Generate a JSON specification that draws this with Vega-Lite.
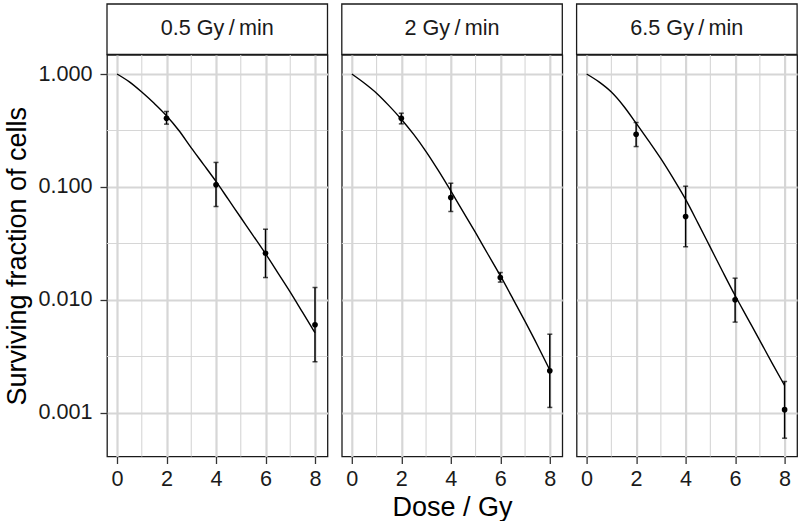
{
  "$schema": "https://vega.github.io/schema/vega-lite/v6.json",
  "padding": {"left": 3, "top": 3, "right": 0, "bottom": 0},
  "background": "white",
  "datasets": {
    "strips": [
      {"rate": "0.5", "label": "0.5 Gy\u2009/\u2009min"},
      {"rate": "2", "label": "2 Gy\u2009/\u2009min"},
      {"rate": "6.5", "label": "6.5 Gy\u2009/\u2009min"}
    ],
    "obs": [
      {"rate": "0.5", "dose": 2, "sf": 0.406, "lo": 0.360, "hi": 0.466},
      {"rate": "0.5", "dose": 4, "sf": 0.1045, "lo": 0.0672, "hi": 0.165},
      {"rate": "0.5", "dose": 6, "sf": 0.0259, "lo": 0.0158, "hi": 0.0423},
      {"rate": "0.5", "dose": 8, "sf": 0.00604, "lo": 0.00284, "hi": 0.0129},
      {"rate": "2", "dose": 2, "sf": 0.406, "lo": 0.362, "hi": 0.45},
      {"rate": "2", "dose": 4, "sf": 0.0807, "lo": 0.0607, "hi": 0.108},
      {"rate": "2", "dose": 6, "sf": 0.0158, "lo": 0.0144, "hi": 0.0175},
      {"rate": "2", "dose": 8, "sf": 0.00236, "lo": 0.00112, "hi": 0.00498},
      {"rate": "6.5", "dose": 2, "sf": 0.293, "lo": 0.228, "hi": 0.372},
      {"rate": "6.5", "dose": 4, "sf": 0.0548, "lo": 0.0296, "hi": 0.1016},
      {"rate": "6.5", "dose": 6, "sf": 0.01004, "lo": 0.00637, "hi": 0.0156},
      {"rate": "6.5", "dose": 8, "sf": 0.00107, "lo": 0.000598, "hi": 0.0019}
    ],
    "fit": [
      {"rate": "0.5", "dose": 0, "sf": 1},
      {"rate": "0.5", "dose": 0.5, "sf": 0.851},
      {"rate": "0.5", "dose": 1, "sf": 0.692},
      {"rate": "0.5", "dose": 1.5, "sf": 0.55},
      {"rate": "0.5", "dose": 2, "sf": 0.427},
      {"rate": "0.5", "dose": 2.5, "sf": 0.316},
      {"rate": "0.5", "dose": 3, "sf": 0.222},
      {"rate": "0.5", "dose": 3.5, "sf": 0.158},
      {"rate": "0.5", "dose": 4, "sf": 0.112},
      {"rate": "0.5", "dose": 4.5, "sf": 0.0776},
      {"rate": "0.5", "dose": 5, "sf": 0.0537},
      {"rate": "0.5", "dose": 5.5, "sf": 0.0372},
      {"rate": "0.5", "dose": 6, "sf": 0.0257},
      {"rate": "0.5", "dose": 6.5, "sf": 0.0174},
      {"rate": "0.5", "dose": 7, "sf": 0.01175},
      {"rate": "0.5", "dose": 7.5, "sf": 0.00776},
      {"rate": "0.5", "dose": 8, "sf": 0.00513},
      {"rate": "2", "dose": 0, "sf": 1},
      {"rate": "2", "dose": 0.5, "sf": 0.832},
      {"rate": "2", "dose": 1, "sf": 0.676},
      {"rate": "2", "dose": 1.5, "sf": 0.525},
      {"rate": "2", "dose": 2, "sf": 0.398},
      {"rate": "2", "dose": 2.5, "sf": 0.292},
      {"rate": "2", "dose": 3, "sf": 0.206},
      {"rate": "2", "dose": 3.5, "sf": 0.1396},
      {"rate": "2", "dose": 4, "sf": 0.0923},
      {"rate": "2", "dose": 4.5, "sf": 0.0603},
      {"rate": "2", "dose": 5, "sf": 0.0394},
      {"rate": "2", "dose": 5.5, "sf": 0.0254},
      {"rate": "2", "dose": 6, "sf": 0.0164},
      {"rate": "2", "dose": 6.5, "sf": 0.01035},
      {"rate": "2", "dose": 7, "sf": 0.00646},
      {"rate": "2", "dose": 7.5, "sf": 0.00398},
      {"rate": "2", "dose": 8, "sf": 0.0024},
      {"rate": "6.5", "dose": 0, "sf": 1},
      {"rate": "6.5", "dose": 0.5, "sf": 0.851},
      {"rate": "6.5", "dose": 1, "sf": 0.692},
      {"rate": "6.5", "dose": 1.5, "sf": 0.519},
      {"rate": "6.5", "dose": 2, "sf": 0.367},
      {"rate": "6.5", "dose": 2.5, "sf": 0.257},
      {"rate": "6.5", "dose": 3, "sf": 0.178},
      {"rate": "6.5", "dose": 3.5, "sf": 0.119},
      {"rate": "6.5", "dose": 4, "sf": 0.0776},
      {"rate": "6.5", "dose": 4.5, "sf": 0.0479},
      {"rate": "6.5", "dose": 5, "sf": 0.0292},
      {"rate": "6.5", "dose": 5.5, "sf": 0.0178},
      {"rate": "6.5", "dose": 6, "sf": 0.01096},
      {"rate": "6.5", "dose": 6.5, "sf": 0.00692},
      {"rate": "6.5", "dose": 7, "sf": 0.00437},
      {"rate": "6.5", "dose": 7.5, "sf": 0.00275},
      {"rate": "6.5", "dose": 8, "sf": 0.00175}
    ],
    "minorx": [{"dose": 1}, {"dose": 3}, {"dose": 5}, {"dose": 7}],
    "minory": [{"sf": 0.316228}, {"sf": 0.0316228}, {"sf": 0.00316228}]
  },
  "spacing": 10.8,
  "hconcat": [
    {
      "spacing": 0,
      "bounds": "flush",
      "vconcat": [
        {
          "width": 220.5, "height": 50.5,
          "data": {"name": "strips"},
          "transform": [{"filter": "datum.rate === '0.5'"}],
          "layer": [
            {"mark": {"type": "rect", "fill": "white", "stroke": "#1a1a1a", "strokeWidth": 1.3}, "encoding": {}},
            {"mark": {"type": "text", "font": "Liberation Sans", "fontSize": 21.6, "color": "#1a1a1a"}, "encoding": {"text": {"field": "label"}}}
          ]
        },
        {
          "width": 220.5, "height": 401.5,
          "layer": [
            {
              "data": {"name": "minorx"},
              "mark": {"type": "rule", "color": "#d6d6d6", "strokeWidth": 1.1},
              "encoding": {
                "x": {"field": "dose", "type": "quantitative", "title": null, "scale": {"domain": [-0.405, 8.505], "nice": false, "zero": false}, "axis": {"values": [0, 2, 4, 6, 8]}}
              }
            },
            {
              "data": {"name": "minory"},
              "mark": {"type": "rule", "color": "#d6d6d6", "strokeWidth": 1.1},
              "encoding": {
                "y": {"field": "sf", "type": "quantitative", "title": "Surviving fraction of cells", "scale": {"type": "log", "domain": [0.000412, 1.473], "nice": false}, "axis": {"values": [0.001, 0.01, 0.1, 1], "format": ".3f"}}
              }
            },
            {
              "data": {"name": "fit"},
              "transform": [{"filter": "datum.rate === '0.5'"}],
              "mark": {"type": "line", "color": "black", "strokeWidth": 1.4, "interpolate": "monotone"},
              "encoding": {
                "x": {"field": "dose", "type": "quantitative", "title": null, "axis": {"values": [0, 2, 4, 6, 8]}},
                "y": {"field": "sf", "type": "quantitative", "title": "Surviving fraction of cells", "axis": {"values": [0.001, 0.01, 0.1, 1], "format": ".3f"}}
              }
            },
            {
              "data": {"name": "obs"},
              "transform": [{"filter": "datum.rate === '0.5'"}],
              "layer": [
                {
                  "mark": {"type": "rule", "color": "black", "strokeWidth": 1.5},
                  "encoding": {
                    "x": {"field": "dose", "type": "quantitative", "title": null},
                    "y": {"field": "lo", "type": "quantitative", "title": "Surviving fraction of cells"},
                    "y2": {"field": "hi"}
                  }
                },
                {
                  "mark": {"type": "tick", "orient": "horizontal", "color": "black", "size": 5, "thickness": 1.5},
                  "encoding": {
                    "x": {"field": "dose", "type": "quantitative", "title": null},
                    "y": {"field": "lo", "type": "quantitative", "title": "Surviving fraction of cells"}
                  }
                },
                {
                  "mark": {"type": "tick", "orient": "horizontal", "color": "black", "size": 5, "thickness": 1.5},
                  "encoding": {
                    "x": {"field": "dose", "type": "quantitative", "title": null},
                    "y": {"field": "hi", "type": "quantitative", "title": "Surviving fraction of cells"}
                  }
                },
                {
                  "mark": {"type": "circle", "color": "black", "opacity": 1, "size": 32},
                  "encoding": {
                    "x": {"field": "dose", "type": "quantitative", "title": null},
                    "y": {"field": "sf", "type": "quantitative", "title": "Surviving fraction of cells"}
                  }
                }
              ]
            }
          ]
        }
      ]
    },
    {
      "spacing": 0,
      "bounds": "flush",
      "vconcat": [
        {
          "width": 220.5, "height": 50.5,
          "data": {"name": "strips"},
          "transform": [{"filter": "datum.rate === '2'"}],
          "layer": [
            {"mark": {"type": "rect", "fill": "white", "stroke": "#1a1a1a", "strokeWidth": 1.3}, "encoding": {}},
            {"mark": {"type": "text", "font": "Liberation Sans", "fontSize": 21.6, "color": "#1a1a1a"}, "encoding": {"text": {"field": "label"}}}
          ]
        },
        {
          "width": 220.5, "height": 401.5,
          "layer": [
            {
              "data": {"name": "minorx"},
              "mark": {"type": "rule", "color": "#d6d6d6", "strokeWidth": 1.1},
              "encoding": {
                "x": {"field": "dose", "type": "quantitative", "title": "Dose / Gy", "scale": {"domain": [-0.405, 8.505], "nice": false, "zero": false}, "axis": {"values": [0, 2, 4, 6, 8]}}
              }
            },
            {
              "data": {"name": "minory"},
              "mark": {"type": "rule", "color": "#d6d6d6", "strokeWidth": 1.1},
              "encoding": {
                "y": {"field": "sf", "type": "quantitative", "title": null, "scale": {"type": "log", "domain": [0.000412, 1.473], "nice": false}, "axis": {"values": [0.001, 0.01, 0.1, 1], "labels": false, "ticks": false, "labelPadding": 0, "tickSize": 0}}
              }
            },
            {
              "data": {"name": "fit"},
              "transform": [{"filter": "datum.rate === '2'"}],
              "mark": {"type": "line", "color": "black", "strokeWidth": 1.4, "interpolate": "monotone"},
              "encoding": {
                "x": {"field": "dose", "type": "quantitative", "title": "Dose / Gy", "axis": {"values": [0, 2, 4, 6, 8]}},
                "y": {"field": "sf", "type": "quantitative", "title": null, "axis": {"values": [0.001, 0.01, 0.1, 1], "labels": false, "ticks": false, "labelPadding": 0, "tickSize": 0}}
              }
            },
            {
              "data": {"name": "obs"},
              "transform": [{"filter": "datum.rate === '2'"}],
              "layer": [
                {
                  "mark": {"type": "rule", "color": "black", "strokeWidth": 1.5},
                  "encoding": {
                    "x": {"field": "dose", "type": "quantitative", "title": "Dose / Gy"},
                    "y": {"field": "lo", "type": "quantitative", "title": null},
                    "y2": {"field": "hi"}
                  }
                },
                {
                  "mark": {"type": "tick", "orient": "horizontal", "color": "black", "size": 5, "thickness": 1.5},
                  "encoding": {
                    "x": {"field": "dose", "type": "quantitative", "title": "Dose / Gy"},
                    "y": {"field": "lo", "type": "quantitative", "title": null}
                  }
                },
                {
                  "mark": {"type": "tick", "orient": "horizontal", "color": "black", "size": 5, "thickness": 1.5},
                  "encoding": {
                    "x": {"field": "dose", "type": "quantitative", "title": "Dose / Gy"},
                    "y": {"field": "hi", "type": "quantitative", "title": null}
                  }
                },
                {
                  "mark": {"type": "circle", "color": "black", "opacity": 1, "size": 32},
                  "encoding": {
                    "x": {"field": "dose", "type": "quantitative", "title": "Dose / Gy"},
                    "y": {"field": "sf", "type": "quantitative", "title": null}
                  }
                }
              ]
            }
          ]
        }
      ]
    },
    {
      "spacing": 0,
      "bounds": "flush",
      "vconcat": [
        {
          "width": 220.5, "height": 50.5,
          "data": {"name": "strips"},
          "transform": [{"filter": "datum.rate === '6.5'"}],
          "layer": [
            {"mark": {"type": "rect", "fill": "white", "stroke": "#1a1a1a", "strokeWidth": 1.3}, "encoding": {}},
            {"mark": {"type": "text", "font": "Liberation Sans", "fontSize": 21.6, "color": "#1a1a1a"}, "encoding": {"text": {"field": "label"}}}
          ]
        },
        {
          "width": 220.5, "height": 401.5,
          "layer": [
            {
              "data": {"name": "minorx"},
              "mark": {"type": "rule", "color": "#d6d6d6", "strokeWidth": 1.1},
              "encoding": {
                "x": {"field": "dose", "type": "quantitative", "title": null, "scale": {"domain": [-0.405, 8.505], "nice": false, "zero": false}, "axis": {"values": [0, 2, 4, 6, 8]}}
              }
            },
            {
              "data": {"name": "minory"},
              "mark": {"type": "rule", "color": "#d6d6d6", "strokeWidth": 1.1},
              "encoding": {
                "y": {"field": "sf", "type": "quantitative", "title": null, "scale": {"type": "log", "domain": [0.000412, 1.473], "nice": false}, "axis": {"values": [0.001, 0.01, 0.1, 1], "labels": false, "ticks": false, "labelPadding": 0, "tickSize": 0}}
              }
            },
            {
              "data": {"name": "fit"},
              "transform": [{"filter": "datum.rate === '6.5'"}],
              "mark": {"type": "line", "color": "black", "strokeWidth": 1.4, "interpolate": "monotone"},
              "encoding": {
                "x": {"field": "dose", "type": "quantitative", "title": null, "axis": {"values": [0, 2, 4, 6, 8]}},
                "y": {"field": "sf", "type": "quantitative", "title": null, "axis": {"values": [0.001, 0.01, 0.1, 1], "labels": false, "ticks": false, "labelPadding": 0, "tickSize": 0}}
              }
            },
            {
              "data": {"name": "obs"},
              "transform": [{"filter": "datum.rate === '6.5'"}],
              "layer": [
                {
                  "mark": {"type": "rule", "color": "black", "strokeWidth": 1.5},
                  "encoding": {
                    "x": {"field": "dose", "type": "quantitative", "title": null},
                    "y": {"field": "lo", "type": "quantitative", "title": null},
                    "y2": {"field": "hi"}
                  }
                },
                {
                  "mark": {"type": "tick", "orient": "horizontal", "color": "black", "size": 5, "thickness": 1.5},
                  "encoding": {
                    "x": {"field": "dose", "type": "quantitative", "title": null},
                    "y": {"field": "lo", "type": "quantitative", "title": null}
                  }
                },
                {
                  "mark": {"type": "tick", "orient": "horizontal", "color": "black", "size": 5, "thickness": 1.5},
                  "encoding": {
                    "x": {"field": "dose", "type": "quantitative", "title": null},
                    "y": {"field": "hi", "type": "quantitative", "title": null}
                  }
                },
                {
                  "mark": {"type": "circle", "color": "black", "opacity": 1, "size": 32},
                  "encoding": {
                    "x": {"field": "dose", "type": "quantitative", "title": null},
                    "y": {"field": "sf", "type": "quantitative", "title": null}
                  }
                }
              ]
            }
          ]
        }
      ]
    }
  ],
  "config": {
    "font": "Liberation Sans",
    "view": {"stroke": "#1a1a1a", "strokeWidth": 1.3, "fill": "white"},
    "axis": {
      "domain": false,
      "gridColor": "#d6d6d6",
      "gridWidth": 2.2,
      "gridOpacity": 1,
      "tickColor": "#333333",
      "tickWidth": 1.3,
      "tickSize": 7,
      "labelFont": "Liberation Sans",
      "labelFontSize": 21.6,
      "labelColor": "#1a1a1a",
      "labelPadding": 5,
      "labelFlush": false,
      "labelOverlap": false,
      "titleFont": "Liberation Sans",
      "titleFontSize": 27,
      "titleFontWeight": "normal",
      "titleColor": "black"
    },
    "axisY": {"titlePadding": 6, "labelPadding": 8},
    "axisX": {"titlePadding": 4}
  }
}
